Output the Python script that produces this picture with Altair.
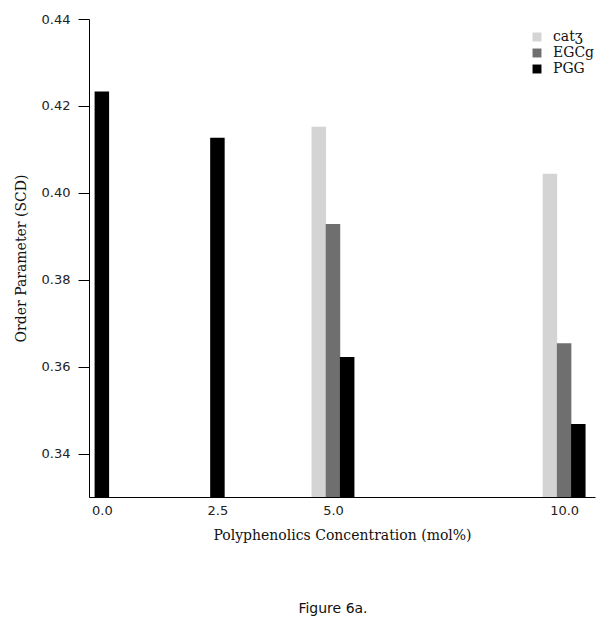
import altair as alt
import pandas as pd

conc = [0.0, 2.5, 5.0, 5.0, 5.0, 10.0, 10.0, 10.0]
series = ["PGG", "PGG", "catʒ", "EGCg", "PGG", "catʒ", "EGCg", "PGG"]
values = [0.4233, 0.4127, 0.4152, 0.3928, 0.3622, 0.4044, 0.3654, 0.3468]
series_order = ["catʒ", "EGCg", "PGG"]
series_colors = ["#d4d4d4", "#6f6f6f", "#000000"]
y_ticks = [0.34, 0.36, 0.38, 0.40, 0.42, 0.44]
x_ticks = [0.0, 2.5, 5.0, 10.0]

df = pd.DataFrame({"conc": conc, "series": series, "value": values})

serif = "DejaVu Serif"
sans = "DejaVu Sans"

chart = (
    alt.Chart(df)
    .transform_calculate(order="indexof(['catʒ','EGCg','PGG'], datum.series)")
    .transform_joinaggregate(n="count()", groupby=["conc"])
    .transform_calculate(pos="datum.conc + (datum.n > 1 ? (datum.order - 1) * 0.307 : 0)")
    .mark_bar(size=14.5, clip=True)
    .encode(
        x=alt.X(
            "pos:Q",
            scale=alt.Scale(domain=[-0.17, 10.56], nice=False, zero=False),
            axis=alt.Axis(
                values=x_ticks, format=".1f", title="Polyphenolics Concentration (mol%)",
                ticks=False, grid=False, labelPadding=7, titlePadding=11,
                labelFont=sans, labelFontSize=13, labelColor="#222",
                titleFont=serif, titleFontSize=14, titleFontWeight="normal", titleColor="#111",
                domainColor="#000", labelFlush=False,
            ),
        ),
        y=alt.Y(
            "value:Q",
            scale=alt.Scale(domain=[0.33, 0.44], nice=False, zero=False),
            axis=alt.Axis(
                values=y_ticks, format=".2f", title="Order Parameter (SCD)",
                tickSize=11, tickColor="#000", grid=False, labelPadding=8, titlePadding=13,
                labelFont=sans, labelFontSize=13, labelColor="#222",
                titleFont=serif, titleFontSize=14, titleFontWeight="normal", titleColor="#111",
                domainColor="#000",
            ),
        ),
        color=alt.Color(
            "series:N",
            scale=alt.Scale(domain=series_order, range=series_colors),
            legend=alt.Legend(
                title=None, orient="none", legendX=441, legendY=11,
                symbolType="square", symbolSize=80, symbolStrokeWidth=0,
                labelFont=serif, labelFontSize=14, labelColor="#111",
                labelOffset=9, rowPadding=2,
            ),
        ),
    )
    .properties(
        width=506,
        height=478,
        padding={"left": 81, "top": 11, "right": 5, "bottom": 124},
        autosize=alt.AutoSizeParams(type="none"),
        title=alt.TitleParams(
            "Figure 6a.", orient="bottom", anchor="middle", offset=60, dx=-9,
            font=sans, fontSize=14, fontWeight="normal", color="#111",
        ),
    )
    .configure_view(stroke=None)
)

chart.save("out.html", embed_options={"renderer": "svg", "actions": False})
